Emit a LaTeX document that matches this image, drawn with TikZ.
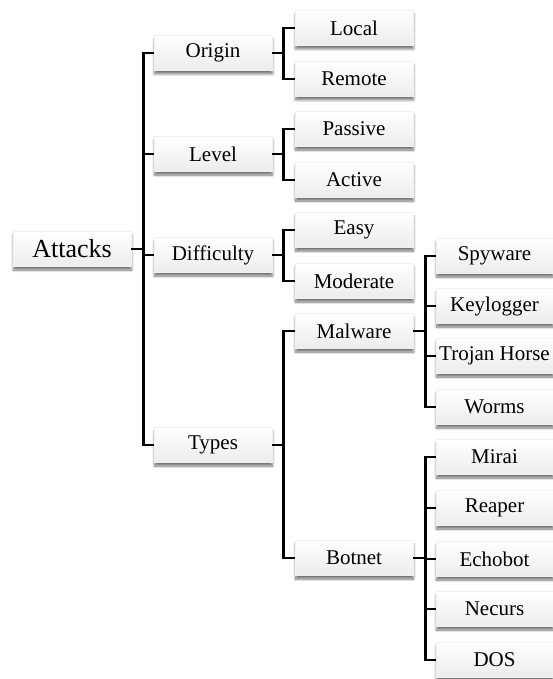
\documentclass[tikz,border=0pt]{standalone}
\usepackage{fontspec}
\setmainfont{Liberation Serif}
\usetikzlibrary{shadows.blur}

\begin{document}
\begin{tikzpicture}[x=1pt,y=-1pt]
  \tikzstyle{box}=[draw=gray!12, top color=white, bottom color=gray!15,
    minimum width=118pt, minimum height=35pt, inner xsep=1pt,
    font=\fontsize{21}{25}\selectfont,
    blur shadow={shadow xshift=0.5pt, shadow yshift=-3.5pt,
      shadow blur radius=2.5pt, shadow blur steps=8, shadow opacity=55}]
  \tikzstyle{root}=[box, font=\fontsize{26}{31}\selectfont]
  \tikzstyle{leaf}=[box, minimum width=117pt]
  \tikzstyle{link}=[draw=black, line width=2.6pt]
  \useasboundingbox (0,0) rectangle (553,679);

  % root and first level
  \node[root] (attacks) at (72,249) {Attacks};
  \node[box] (origin) at (213,53) {Origin};
  \node[box] (level) at (213,154) {Level};
  \node[box] (difficulty) at (213,255) {Difficulty};
  \node[box] (types) at (213,445) {Types};

  % second level
  \node[box] (local) at (354,28) {Local};
  \node[box] (remote) at (354,79) {Remote};
  \node[box] (passive) at (354,129) {Passive};
  \node[box] (active) at (354,180) {Active};
  \node[box] (easy) at (354,230) {Easy};
  \node[box] (moderate) at (354,281) {Moderate};
  \node[box] (malware) at (354,331) {Malware};
  \node[box] (botnet) at (354,558) {Botnet};

  % third level
  \node[leaf] (spyware) at (494.5,256) {Spyware};
  \node[leaf] (keylogger) at (494.5,306) {Keylogger};
  \node[leaf] (trojan) at (494.5,356) {Trojan Horse};
  \node[leaf] (worms) at (494.5,407) {Worms};
  \node[leaf] (mirai) at (494.5,457) {Mirai};
  \node[leaf] (reaper) at (494.5,508) {Reaper};
  \node[leaf] (echobot) at (494.5,559) {Echobot};
  \node[leaf] (necurs) at (494.5,609) {Necurs};
  \node[leaf] (dos) at (494.5,660) {DOS};

  \foreach \child in {origin,level,difficulty,types}
    \draw[link] (attacks.east) -- ++(12,0) |- (\child.west);
  \foreach \parent/\a/\b in {origin/local/remote,level/passive/active,
                             difficulty/easy/moderate,types/malware/botnet} {
    \draw[link] (\parent.east) -- ++(11,0) |- (\a.west);
    \draw[link] (\parent.east) -- ++(11,0) |- (\b.west);
  }
  \foreach \child in {spyware,keylogger,trojan,worms}
    \draw[link] (malware.east) -- ++(12,0) |- (\child.west);
  \foreach \child in {mirai,reaper,echobot,necurs,dos}
    \draw[link] (botnet.east) -- ++(12,0) |- (\child.west);
\end{tikzpicture}
\end{document}
